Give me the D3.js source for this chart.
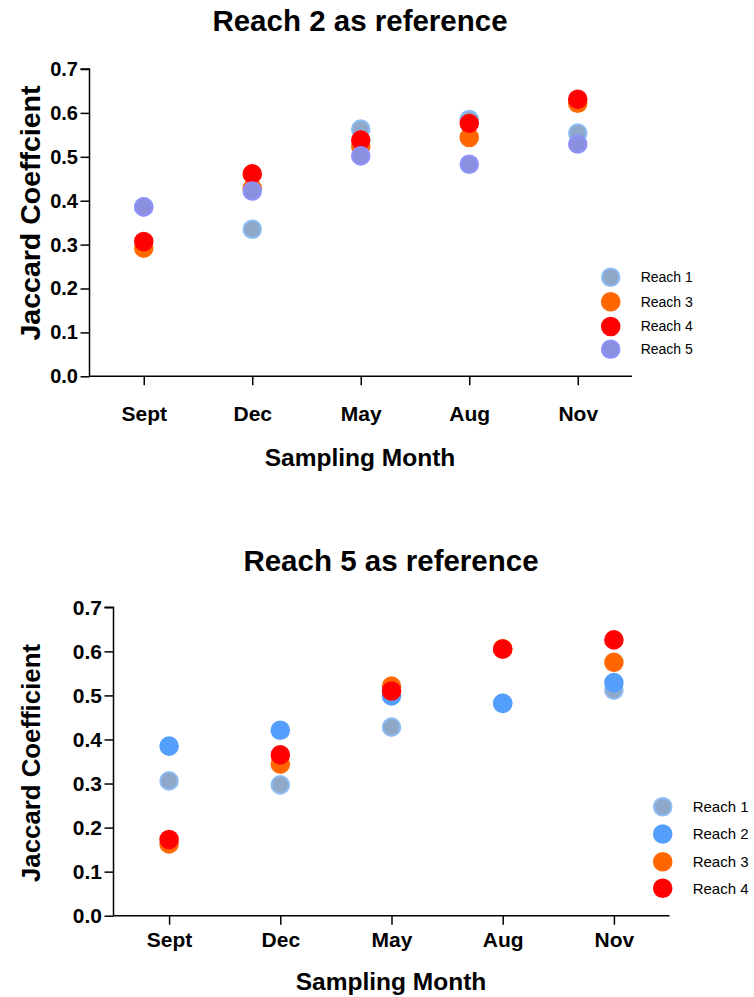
<!DOCTYPE html>
<html>
<head>
<meta charset="utf-8">
<script src="https://cdn.jsdelivr.net/npm/d3@7"></script>
<style>
    body { margin: 0; background: #fff; }
    svg { display: block; }
    text { font-family: "Liberation Sans", Arial, Helvetica, sans-serif; fill: #000; }
    .axis path, .axis line { stroke: #000; stroke-width: 1.5px; }
</style>
</head>
<body>
<div id="chart"></div>
<script>
const months = ["Sept", "Dec", "May", "Aug", "Nov"];
const yTicks = [0, 0.1, 0.2, 0.3, 0.4, 0.5, 0.6, 0.7];

// Reach 2 as reference
const ref2Series = ["Reach 1", "Reach 3", "Reach 4", "Reach 5"];
const ref2Reach1 = [0.386, 0.335, 0.563, 0.585, 0.554];
const ref2Reach3 = [0.292, 0.428, 0.524, 0.544, 0.622];
const ref2Reach4 = [0.307, 0.461, 0.538, 0.576, 0.631];
const ref2Reach5 = [0.386, 0.422, 0.502, 0.483, 0.529];

// Reach 5 as reference
const ref5Series = ["Reach 1", "Reach 2", "Reach 3", "Reach 4"];
const ref5Reach1 = [0.306, 0.297, 0.428, 0.482, 0.512];
const ref5Reach2 = [0.385, 0.421, 0.499, 0.482, 0.529];
const ref5Reach3 = [0.163, 0.344, 0.521, 0.606, 0.575];
const ref5Reach4 = [0.173, 0.365, 0.510, 0.605, 0.626];

// fill / outline for each reach
const reachStyle = {
    "Reach 1": {fill: "#8ea8c9", stroke: "#8dbdf4"},
    "Reach 2": {fill: "#549ffb", stroke: "#559ffc"},
    "Reach 3": {fill: "#ff6600", stroke: "#ff6a08"},
    "Reach 4": {fill: "#ff0000", stroke: "#ff0505"},
    "Reach 5": {fill: "#8b8fe0", stroke: "#9092fc"}
};

const svg = d3.select("#chart").append("svg")
    .attr("width", 754)
    .attr("height", 997);

function drawPanel(p) {
    const x = d3.scalePoint()
        .domain(months)
        .range([p.left, p.right])
        .padding(0.5);
    const y = d3.scaleLinear()
        .domain([0, 0.7])
        .range([p.bottom, p.top]);

    const g = svg.append("g");

    g.append("text")
        .attr("x", p.titleX)
        .attr("y", p.titleY)
        .attr("text-anchor", "middle")
        .style("font-size", "29.5px")
        .style("font-weight", "bold")
        .text(p.title);

    // Add Y axis
    const yAxis = g.append("g")
        .attr("class", "axis")
        .attr("transform", "translate(" + p.left + ",0)")
        .call(d3.axisLeft(y).tickValues(yTicks).tickFormat(d3.format(".1f")).tickSize(9).tickSizeOuter(0).tickPadding(2.5));
    yAxis.selectAll("text")
        .style("font-size", p.yTickFont + "px")
        .style("font-weight", "bold");
    yAxis.select(".domain").attr("d", "M" + (-9) + "," + y(0.7) + "H0V" + p.bottom);

    // Add X axis
    const xAxis = g.append("g")
        .attr("class", "axis")
        .attr("transform", "translate(0," + p.bottom + ")")
        .call(d3.axisBottom(x).tickSize(9).tickSizeOuter(0).tickPadding(p.xPad));
    xAxis.selectAll("text")
        .style("font-size", "21px")
        .style("font-weight", "bold");
    xAxis.select(".domain").attr("d", "M" + p.left + ",0H" + p.right);

    g.append("text")
        .attr("x", p.xTitleX)
        .attr("y", p.xTitleY)
        .attr("text-anchor", "middle")
        .style("font-size", "24.5px")
        .style("font-weight", "bold")
        .text("Sampling Month");

    g.append("text")
        .attr("transform", "translate(" + p.yTitleX + "," + p.yTitleY + ") rotate(-90)")
        .attr("text-anchor", "middle")
        .style("font-size", p.yTitleFont + "px")
        .style("font-weight", "bold")
        .text(p.yTitle);

    // Add dots, one group per series so later series sit on top
    p.series.forEach(function (name, i) {
        const pts = months.map(function (m, j) {
            return {month: m, value: p.values[i][j]};
        });
        g.append("g")
            .selectAll("circle")
            .data(pts)
            .enter()
            .append("circle")
            .attr("cx", function (d) { return x(d.month); })
            .attr("cy", function (d) { return y(d.value); })
            .attr("r", 8.8)
            .style("fill", reachStyle[name].fill)
            .style("stroke", reachStyle[name].stroke)
            .style("stroke-width", 2);
    });

    // Legend
    p.series.forEach(function (name, i) {
        g.append("circle")
            .attr("cx", p.legendX)
            .attr("cy", p.legendY[i])
            .attr("r", 8.8)
            .style("fill", reachStyle[name].fill)
            .style("stroke", reachStyle[name].stroke)
            .style("stroke-width", 2);
        g.append("text")
            .attr("x", p.legendX + 30)
            .attr("y", p.legendY[i])
            .attr("dy", "0.35em")
            .style("font-size", p.legendFont + "px")
            .text(name);
    });
}

drawPanel({
    title: "Reach 2 as reference", titleX: 360, titleY: 31,
    left: 89.5, right: 632, top: 69, bottom: 376.3,
    xPad: 21, yTickFont: 20,
    xTitleX: 360, xTitleY: 466,
    yTitle: "Jaccard Coeffcient", yTitleX: 40, yTitleY: 213, yTitleFont: 28.5,
    series: ref2Series,
    values: [ref2Reach1, ref2Reach3, ref2Reach4, ref2Reach5],
    legendX: 610.7, legendY: [277.3, 301.7, 326.5, 349.3], legendFont: 14
});

drawPanel({
    title: "Reach 5 as reference", titleX: 391, titleY: 571,
    left: 113.5, right: 669.5, top: 607.3, bottom: 915.7,
    xPad: 7.5, yTickFont: 21,
    xTitleX: 391, xTitleY: 990,
    yTitle: "Jaccard Coefficient", yTitleX: 40, yTitleY: 763, yTitleFont: 25.8,
    series: ref5Series,
    values: [ref5Reach1, ref5Reach2, ref5Reach3, ref5Reach4],
    legendX: 662.7, legendY: [806.7, 834, 861.7, 888.3], legendFont: 15
});
</script>
</body>
</html>
